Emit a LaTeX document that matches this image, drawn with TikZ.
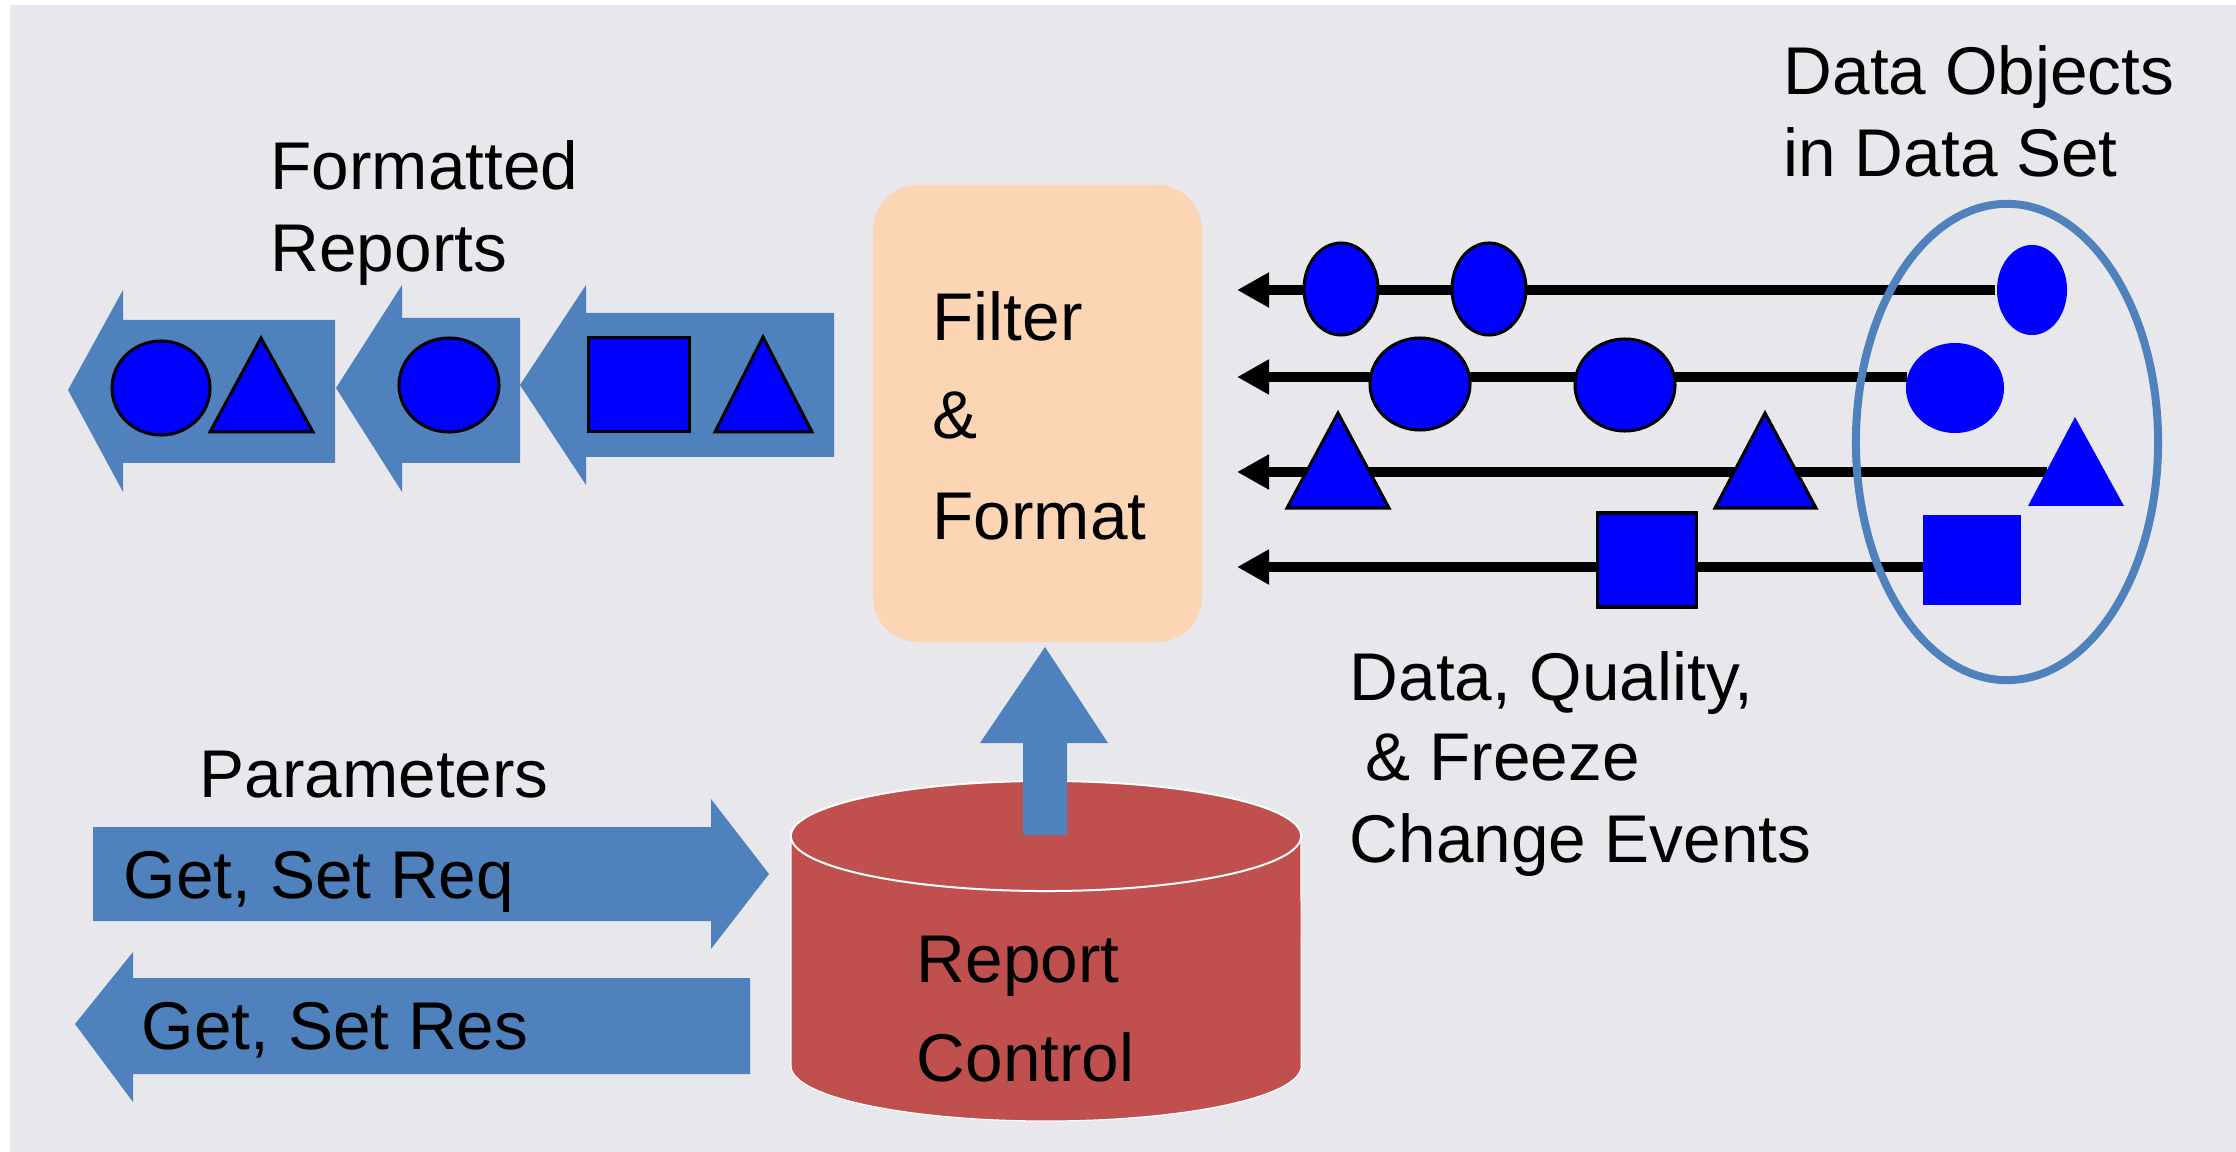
\documentclass[tikz,border=0pt]{standalone}
\usepackage{fontspec}
\setmainfont{Liberation Sans}
\usetikzlibrary{arrows.meta}
\definecolor{bgc}{HTML}{E8E8EC}
\definecolor{arrblue}{HTML}{4F81BD}
\definecolor{objblue}{HTML}{0000FF}
\definecolor{peach}{HTML}{FCD5B5}
\definecolor{cylred}{HTML}{C0504D}
\tikzset{
  lbl/.style={anchor=base west, inner sep=0pt, font=\fontsize{19.2}{23}\selectfont, text=black},
  bigarrow/.style={fill=arrblue},
  obj/.style={fill=objblue, draw=black, line width=0.03cm},
  objplain/.style={fill=objblue},
  evline/.style={line width=0.1cm, black, -{Triangle[length=0.32cm,width=0.33cm]}},
  ffbox/.style={fill=peach, rounded corners=0.45cm, inner sep=0pt}
}
\begin{document}
\begin{tikzpicture}[x=0.01cm,y=-0.01cm]
\useasboundingbox (0,0) rectangle (2236,1152);
\fill[white] (0,0) rectangle (2236,1152);
\fill[bgc] (10,5) rectangle (2236,1152);

% Formatted reports arrows
\fill[bigarrow] (68,390) -- (123,290) -- (123,320) -- (335,320) -- (335,463) -- (123,463) -- (123,492) -- cycle;
\fill[bigarrow] (336,388) -- (402,285) -- (402,318) -- (520,318) -- (520,463) -- (402,463) -- (402,492) -- cycle;
\fill[bigarrow] (520,385) -- (586,285) -- (586,313) -- (834,313) -- (834,457) -- (586,457) -- (586,485) -- cycle;
\path[obj] (161,388) ellipse [x radius=0.49cm, y radius=0.47cm];
\path[obj] (210,432) -- (313,432) -- (261,338) -- cycle;
\path[obj] (449,385) ellipse [x radius=0.50cm, y radius=0.47cm];
\path[obj] (588,338) rectangle (689,432);
\path[obj] (715,432) -- (812,432) -- (763,337) -- cycle;

\node[lbl] (fr1) at (270,190) {Formatted};
\node[lbl] (fr2) at (270,272) {Reports};

% Filter & Format box
\node[ffbox, minimum width=3.29cm, minimum height=4.57cm] (ff) at (1037.5,413.5) {};
\node[lbl] (ff1) at (932,341) {Filter};
\node[lbl] (ff2) at (932,439) {\&};
\node[lbl] (ff3) at (932,539) {Format};

% event lines
\coordinate (r1s) at (1995,290); \coordinate (r1e) at (1237,290);
\coordinate (r2s) at (1907,377); \coordinate (r2e) at (1237,377);
\coordinate (r3s) at (2047,472); \coordinate (r3e) at (1237,472);
\coordinate (r4s) at (1923,567); \coordinate (r4e) at (1237,567);
\draw[evline] (r1s) -- (r1e);
\draw[evline] (r2s) -- (r2e);
\draw[evline] (r3s) -- (r3e);
\draw[evline] (r4s) -- (r4e);

% row 1
\path[obj] (1341,289) ellipse [x radius=0.37cm, y radius=0.46cm];
\path[obj] (1489,289) ellipse [x radius=0.37cm, y radius=0.46cm];
\path[objplain] (2032,290) ellipse [x radius=0.35cm, y radius=0.45cm];
% row 2
\path[obj] (1420,384) ellipse [x radius=0.50cm, y radius=0.46cm];
\path[obj] (1625,385) ellipse [x radius=0.50cm, y radius=0.46cm];
\path[objplain] (1955,388) ellipse [x radius=0.49cm, y radius=0.45cm];
% row 3
\path[obj] (1287,508) -- (1389,508) -- (1338,413) -- cycle;
\path[obj] (1715,508) -- (1816,508) -- (1765,413) -- cycle;
\path[objplain] (2028,506) -- (2124,506) -- (2075,417) -- cycle;
% row 4
\path[obj] (1597,513) rectangle (1696,607);
\path[objplain] (1923,515) rectangle (2021,605);

% data set ellipse
\draw[arrblue, line width=0.08cm] (2007,442) ellipse [x radius=1.51cm, y radius=2.38cm];
\node[lbl] (ds1) at (1783,95) {Data Objects};
\node[lbl] (ds2) at (1783,177) {in Data Set};

\node[lbl] (ev1) at (1349,700) {Data, Quality,};
\node[lbl] (ev2) at (1365,780) {\& Freeze};
\node[lbl] (ev3) at (1349,862) {Change Events};

% parameters arrows
\node[lbl] (par) at (199,797) {Parameters};
\fill[bigarrow] (93,827) -- (711,827) -- (711,799) -- (769,874) -- (711,949) -- (711,921) -- (93,921) -- cycle;
\fill[bigarrow] (75,1024) -- (133,952) -- (133,978) -- (750,978) -- (750,1074) -- (133,1074) -- (133,1102) -- cycle;
\node[lbl] (req) at (123,898) {Get, Set Req};
\node[lbl] (res) at (141,1049) {Get, Set Res};

% cylinder
\path[fill=cylred, draw=white, line width=0.012cm] (791,836) -- (791,1066) arc[start angle=180, end angle=360, x radius=2.55cm, y radius=0.55cm] -- (1301,836) -- cycle;
\path[fill=cylred, draw=white, line width=0.02cm] (1046,836) ellipse [x radius=2.55cm, y radius=0.55cm];
\node[lbl] (rc1) at (916,982) {Report};
\node[lbl] (rc2) at (916,1081) {Control};

% up arrow
\fill[bigarrow] (1045,647) -- (1108,743) -- (1067,743) -- (1067,835) -- (1023,835) -- (1023,743) -- (980,743) -- cycle;
\end{tikzpicture}
\end{document}
